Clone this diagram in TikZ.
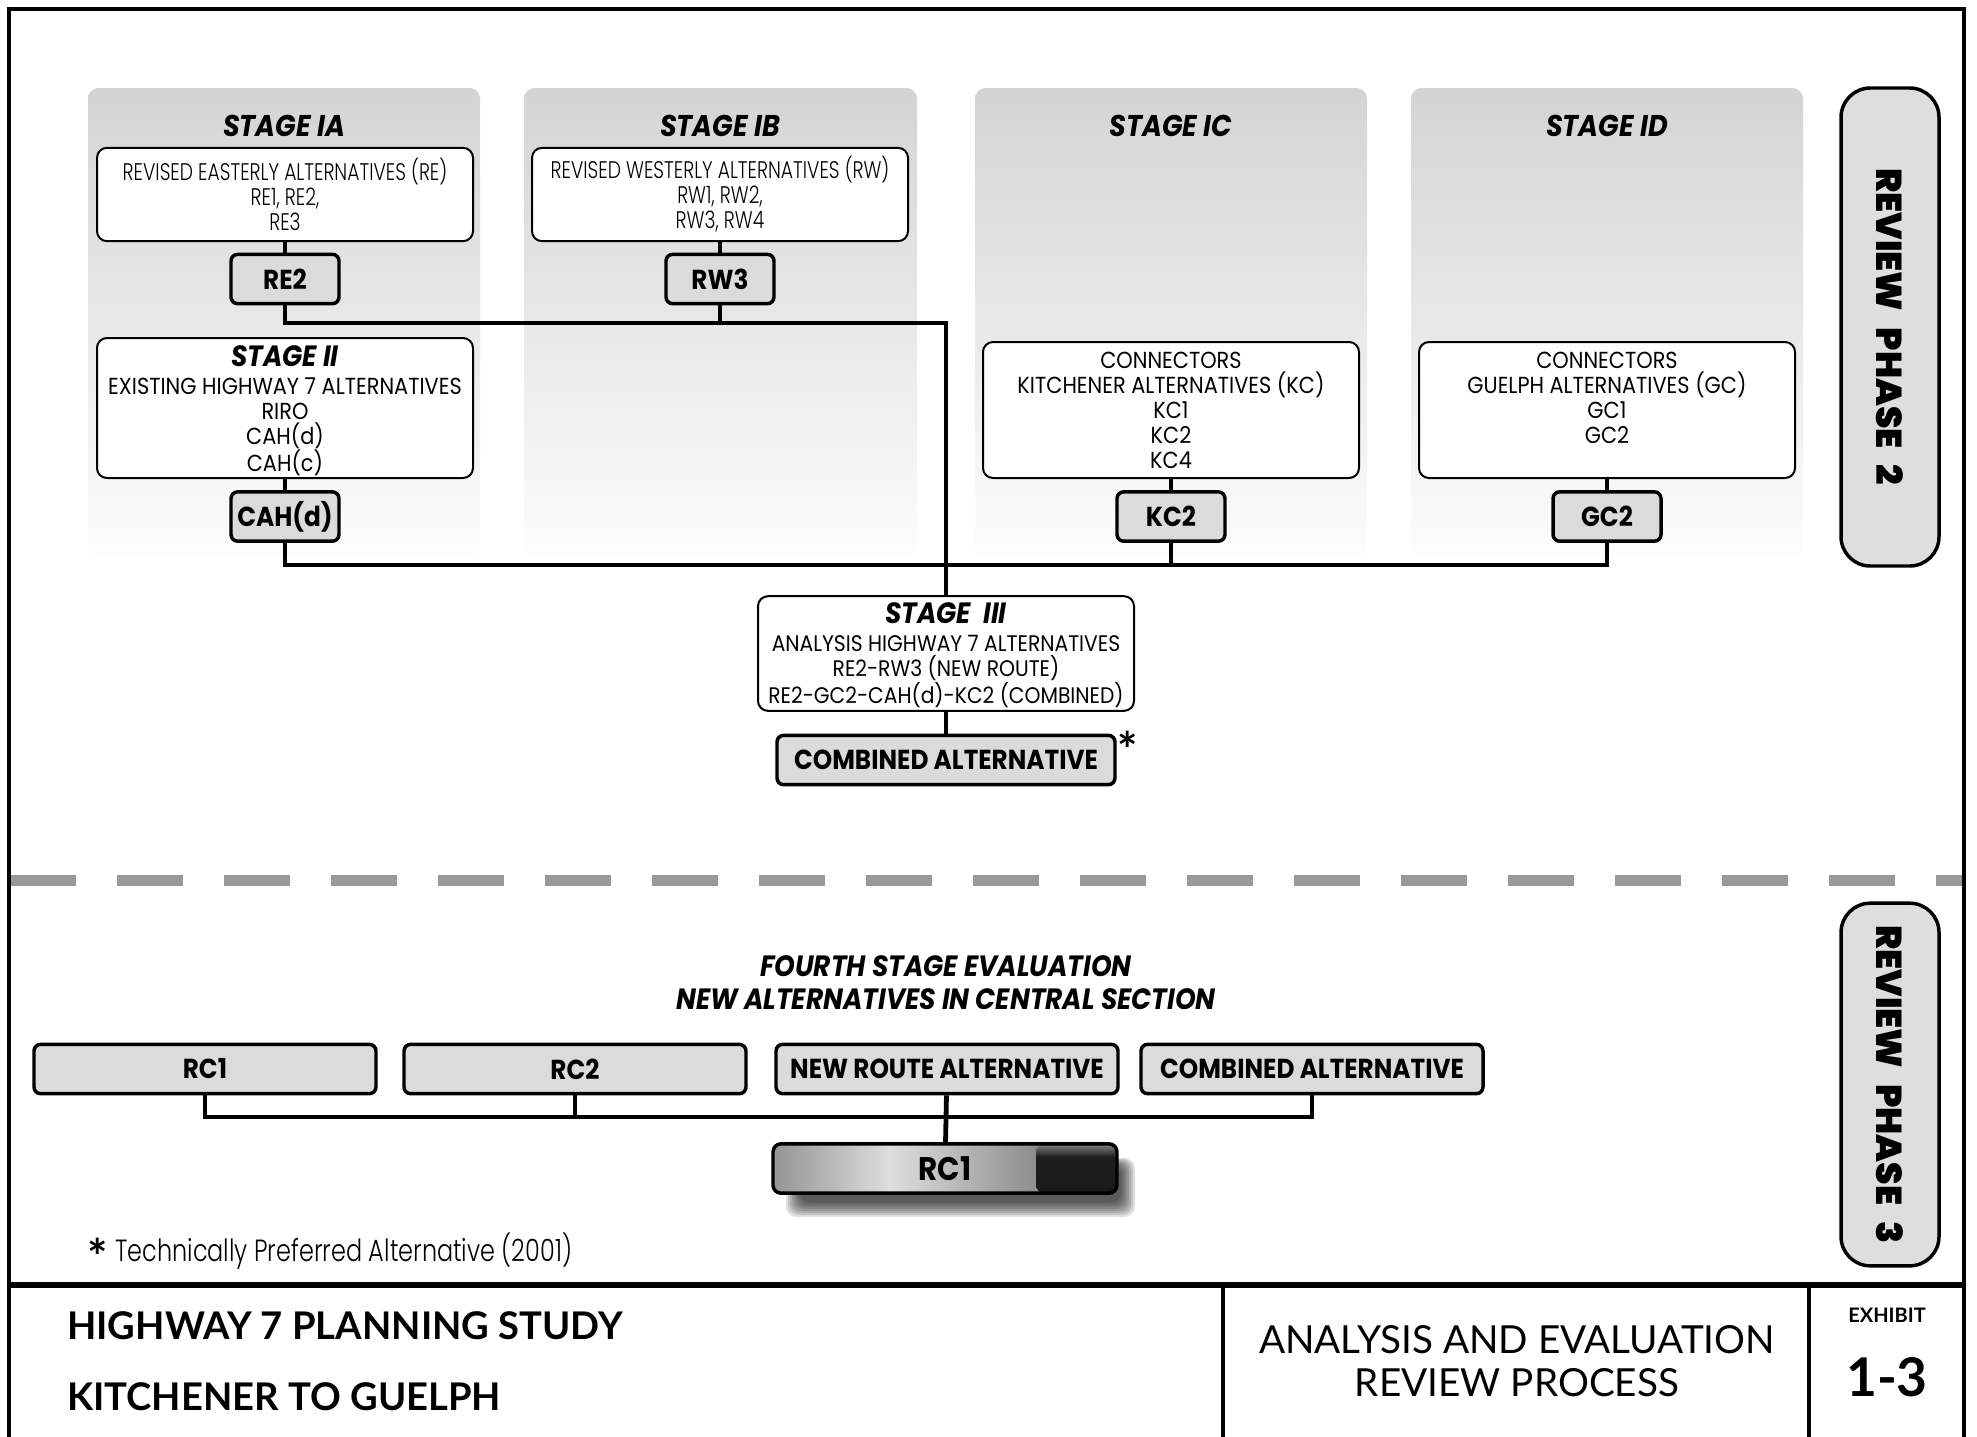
\documentclass[tikz,border=0pt]{standalone}
\usepackage{fontspec}
\newfontfamily\futbook{Poppins}[FakeStretch=0.9]
\newfontfamily\futlight{Poppins Light}[FakeStretch=0.78]
\newfontfamily\futheavy{Poppins Black}
\newfontfamily\optima{Lato}
\usetikzlibrary{calc}

\pgfdeclarehorizontalshading{rcshade}{100bp}{color(0bp)=(black!42); color(25bp)=(black!42); color(42bp)=(black!13); color(75bp)=(black!62); color(100bp)=(black!62)}
\pgfdeclareverticalshading{blkshade}{100bp}{color(0bp)=(black!90); color(25bp)=(black!90); color(62bp)=(black!88); color(75bp)=(black!48); color(100bp)=(black!48)}

\tikzset{
  stagepanel/.style={top color=black!17, bottom color=black!1, rounded corners=8pt},
  stagetitle/.style={inner sep=0pt, font=\futbook\bfseries\itshape\fontsize{22.5}{24}\selectfont},
  altbox/.style={draw, line width=1.5pt, fill=white, rounded corners=7.5pt, minimum width=282pt, inner sep=0pt, align=center},
  lightbox/.style={altbox, minimum height=70pt, font=\futlight\fontsize{18}{18.75}\selectfont},
  medbox/.style={altbox, font=\futbook\fontsize{17.4}{18.75}\selectfont},
  pick/.style={draw, line width=2.6pt, fill=black!14, rounded corners=5pt, minimum width=81pt, minimum height=37pt, inner sep=0pt, font=\futbook\bfseries\fontsize{20.6}{22}\selectfont},
  widepick/.style={pick, minimum width=256.5pt},
  finalbox/.style={draw, line width=2.6pt, rounded corners=6pt, minimum width=258pt, minimum height=37pt, inner sep=0pt, shade, shading=rcshade,
    font=\futbook\bfseries\fontsize{24.5}{26}\selectfont,
    path picture={\shade[shading=blkshade] ($(path picture bounding box.north west)!0.765!(path picture bounding box.north east)$) rectangle (path picture bounding box.south east);}},
  phasebox/.style={draw, line width=2.6pt, fill=black!13, rounded corners=22pt, minimum height=73.5pt, inner sep=0pt, rotate=-90, font=\futheavy\fontsize{27}{30}\selectfont},
  starmark/.style={inner sep=0pt, font=\optima\bfseries\fontsize{36}{36}\selectfont},
  link/.style={line width=3.6pt},
}

\begin{document}
\begin{tikzpicture}[x=0.75pt,y=0.75pt,yscale=-1,xscale=1]
    \useasboundingbox (0,0) rectangle (1977,1436);

    %Shape: Stage panels
    \path[stagepanel] (88,88) rectangle (480,555);
    \path[stagepanel] (524,88) rectangle (917,555);
    \path[stagepanel] (975,88) rectangle (1367,555);
    \path[stagepanel] (1411,88) rectangle (1803,555);

    % Text Node
    \node[stagetitle] (tia) at (284,126) {STAGE IA};
    \node[stagetitle] (tib) at (720,126) {STAGE IB};
    \node[stagetitle] (tic) at (1171,126) {STAGE IC};
    \node[stagetitle] (tid) at (1607,126) {STAGE ID};

    %Shape: Stage I boxes
    \node[lightbox] (re) at (285,194.5) {REVISED EASTERLY ALTERNATIVES (RE)\\RE1, RE2,\\RE3};
    \node[lightbox] (rw) at (720,194.5) {REVISED WESTERLY ALTERNATIVES (RW)\\RW1, RW2,\\RW3, RW4};
    \node[pick] (re2) at (285,279) {RE2};
    \node[pick] (rw3) at (720,279) {RW3};

    %Shape: Stage II and connectors
    \node[medbox, minimum height=105pt] (st2) at (285,408) {\rule{0pt}{19.5pt}{\bfseries\itshape\fontsize{22}{20}\selectfont STAGE II}\\[2pt]EXISTING HIGHWAY 7 ALTERNATIVES\\RIRO\\CAH(d)\\CAH(c)};
    \node[pick] (cahd) at (285,516.5) {CAH(d)};
    \node[medbox, minimum height=102pt] (kc) at (1171,410) {CONNECTORS\\KITCHENER ALTERNATIVES (KC)\\KC1\\KC2\\KC4};
    \node[medbox, minimum height=102pt] (gc) at (1607,410) {CONNECTORS\\GUELPH ALTERNATIVES (GC)\\GC1\\GC2\\\mbox{}};
    \node[pick] (kc2) at (1171,516.5) {KC2};
    \node[pick] (gc2) at (1607,516.5) {GC2};

    %Shape: Stage III
    \node[medbox, minimum height=86pt, font=\futbook\fontsize{16.9}{18.75}\selectfont] (st3) at (946,653.5) {\rule{0pt}{18pt}{\bfseries\itshape\fontsize{22}{20}\selectfont STAGE\ \ III}\\[2pt]ANALYSIS HIGHWAY 7 ALTERNATIVES\\RE2-RW3 (NEW ROUTE)\\RE2-GC2-CAH(d)-KC2 (COMBINED)};
    \node[widepick, minimum width=253.5pt] (comb) at (946,760) {COMBINED ALTERNATIVE};
    \node[starmark] (cstar) at (1128,749) {*};

    %Shape: bus lines
    \coordinate (busa) at (946,323);
    \coordinate (busb) at (1607,565);
    \draw[link] (re) -- (re2);
    \draw[link] (rw) -- (rw3);
    \draw[link] (re2) |- (busa) -- (st3);
    \draw[link] (rw3) -- (rw3 |- busa);
    \draw[link] (st2) -- (cahd);
    \draw[link] (kc) -- (kc2);
    \draw[link] (gc) -- (gc2);
    \draw[link] (cahd) |- (busb) -- (gc2);
    \draw[link] (kc2) -- (kc2 |- busb);
    \draw[link] (st3) -- (comb);

    %Shape: Review phase 2
    \node[phasebox, minimum width=358.5pt] (rp2) at (1890,327) {REVIEW\hspace{0.45em}PHASE\hspace{0.45em}2};

    %Shape: Dashed divider
    \draw[black!40, line width=8.25pt, dash pattern=on 49.5pt off 30.75pt] (10,880) -- (1962,880);

    % Text Node
    \node[align=center, inner sep=0pt, font=\futbook\bfseries\itshape\fontsize{22}{24.75}\selectfont] (fourth) at (946,982.5) {FOURTH STAGE EVALUATION\\NEW ALTERNATIVES IN CENTRAL SECTION};

    %Shape: Fourth stage boxes
    \node[widepick] (rc1) at (205,1069) {RC1};
    \node[widepick] (rc2) at (575,1069) {RC2};
    \node[widepick] (newr) at (947,1069) {NEW ROUTE ALTERNATIVE};
    \node[widepick] (combb) at (1312,1069) {COMBINED ALTERNATIVE};

    %Shape: shadow of the result
    \foreach \k in {0,...,7}
      \fill[black, opacity=0.12, rounded corners=8pt] (786+2*\k,1158+\k) rectangle (1135-2*\k,1217-2*\k);
    \node[finalbox] (final) at (945,1168.5) {RC1};

    \coordinate (busc) at (1312,1117);
    \draw[link] (rc1) |- (busc) -- (combb);
    \draw[link] (rc2) -- (rc2 |- busc);
    \draw[link] (newr) -- (final);

    %Shape: Review phase 3
    \node[phasebox, minimum width=272pt] (rp3) at (1890,1084.5) {REVIEW\hspace{0.45em}PHASE\hspace{0.45em}3};

    % Text Node
    \node[starmark] (fstar) at (98,1256) {*};
    \node[anchor=west, inner sep=0pt, font=\futlight\fontsize{23}{26}\selectfont] (fnote) at (115,1251) {Technically Preferred Alternative (2001)};

    %Shape: Frame and title block
    \draw[line width=3pt] (9,1445) -- (9,9) -- (1964,9) -- (1964,1445);
    \draw[line width=4.5pt] (9,1285) -- (1964,1285);
    \draw[line width=3pt] (1223,1285) -- (1223,1445);
    \draw[line width=3pt] (1809,1285) -- (1809,1445);

    % Text Node
    \node[anchor=west, inner sep=0pt, font=\optima\bfseries\fontsize{28.6}{30}\selectfont] (study) at (67,1326) {HIGHWAY 7 PLANNING STUDY};
    \node[anchor=west, inner sep=0pt, font=\optima\bfseries\fontsize{28.6}{30}\selectfont] (route) at (67,1397) {KITCHENER TO GUELPH};
    \node[align=center, inner sep=0pt, font=\optima\fontsize{29}{32}\selectfont] (ttl) at (1517,1361) {ANALYSIS AND EVALUATION\\REVIEW PROCESS};
    \node[inner sep=0pt, font=\optima\bfseries\fontsize{15}{17}\selectfont] (exh) at (1887,1315) {EXHIBIT};
    \node[inner sep=0pt, font=\optima\bfseries\fontsize{40}{44}\selectfont] (num) at (1887,1377) {1-3};

\end{tikzpicture}
\end{document}
